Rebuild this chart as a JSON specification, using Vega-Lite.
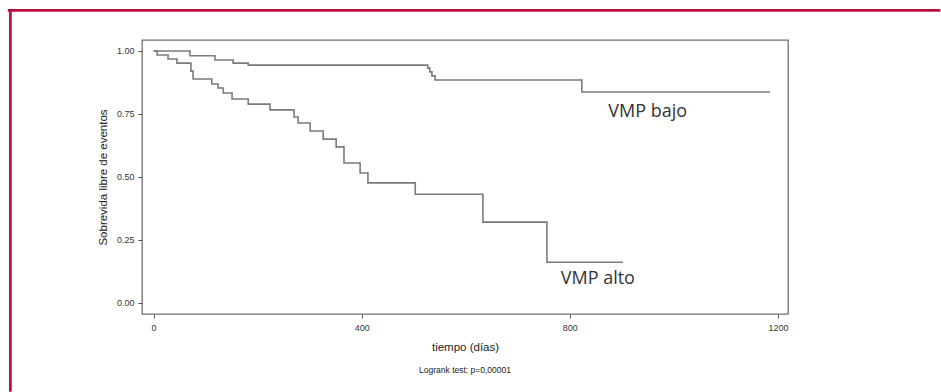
{
  "$schema": "https://vega.github.io/schema/vega-lite/v6.json",
  "width": 646,
  "height": 274,
  "autosize": {"type": "none"},
  "padding": {"left": 142, "top": 40, "right": 153, "bottom": 78},
  "background": "white",
  "config": {
    "view": {"stroke": "#707070", "strokeWidth": 1.3},
    "font": "Liberation Sans"
  },
  "title": {
    "text": "Logrank test: p=0,00001",
    "orient": "bottom",
    "anchor": "middle",
    "fontSize": 8.5,
    "fontWeight": "normal",
    "color": "#222",
    "font": "Liberation Sans",
    "offset": -27
  },
  "datasets": {
    "curves": [
      {"grupo": "VMP bajo", "t": 0, "s": 1.0},
      {"grupo": "VMP bajo", "t": 70, "s": 0.981},
      {"grupo": "VMP bajo", "t": 118, "s": 0.964},
      {"grupo": "VMP bajo", "t": 153, "s": 0.952},
      {"grupo": "VMP bajo", "t": 182, "s": 0.944},
      {"grupo": "VMP bajo", "t": 527, "s": 0.932},
      {"grupo": "VMP bajo", "t": 531, "s": 0.917},
      {"grupo": "VMP bajo", "t": 535, "s": 0.901},
      {"grupo": "VMP bajo", "t": 541, "s": 0.885},
      {"grupo": "VMP bajo", "t": 823, "s": 0.837},
      {"grupo": "VMP bajo", "t": 1185, "s": 0.837},
      {"grupo": "VMP alto", "t": 0, "s": 1.0},
      {"grupo": "VMP alto", "t": 7, "s": 0.984},
      {"grupo": "VMP alto", "t": 28, "s": 0.968},
      {"grupo": "VMP alto", "t": 45, "s": 0.952},
      {"grupo": "VMP alto", "t": 72, "s": 0.92},
      {"grupo": "VMP alto", "t": 76, "s": 0.889},
      {"grupo": "VMP alto", "t": 112, "s": 0.869},
      {"grupo": "VMP alto", "t": 124, "s": 0.853},
      {"grupo": "VMP alto", "t": 134, "s": 0.833},
      {"grupo": "VMP alto", "t": 151, "s": 0.809},
      {"grupo": "VMP alto", "t": 182, "s": 0.789},
      {"grupo": "VMP alto", "t": 224, "s": 0.766},
      {"grupo": "VMP alto", "t": 270, "s": 0.738},
      {"grupo": "VMP alto", "t": 278, "s": 0.714},
      {"grupo": "VMP alto", "t": 301, "s": 0.682},
      {"grupo": "VMP alto", "t": 326, "s": 0.65},
      {"grupo": "VMP alto", "t": 351, "s": 0.619},
      {"grupo": "VMP alto", "t": 366, "s": 0.555},
      {"grupo": "VMP alto", "t": 397, "s": 0.515},
      {"grupo": "VMP alto", "t": 412, "s": 0.476},
      {"grupo": "VMP alto", "t": 503, "s": 0.431},
      {"grupo": "VMP alto", "t": 633, "s": 0.32},
      {"grupo": "VMP alto", "t": 756, "s": 0.161},
      {"grupo": "VMP alto", "t": 902, "s": 0.161}
    ],
    "labels": [
      {"label": "VMP bajo", "t": 874, "s": 0.7366},
      {"label": "VMP alto", "t": 782.5, "s": 0.0743}
    ]
  },
  "layer": [
    {
      "data": {"name": "curves"},
      "mark": {"type": "line", "interpolate": "step-after", "strokeWidth": 1.6, "color": "#7b7b7b"},
      "encoding": {
        "detail": {"field": "grupo"},
        "x": {
          "field": "t", "type": "quantitative",
          "scale": {"domain": [-22.1, 1219.2], "nice": false, "zero": false},
          "axis": {
            "title": "tiempo (días)", "values": [0, 400, 800, 1200], "format": "d", "grid": false, "domain": false,
            "tickSize": 4, "tickColor": "#555", "labelFontSize": 9, "labelColor": "#333", "labelPadding": 5,
            "titleFontSize": 11.5, "titleFontWeight": "normal", "titleColor": "#222", "titlePadding": 9
          }
        },
        "y": {
          "field": "s", "type": "quantitative",
          "scale": {"domain": [-0.0449, 1.0437], "nice": false, "zero": false},
          "axis": {
            "title": "Sobrevida libre de eventos", "values": [0, 0.25, 0.5, 0.75, 1], "format": ".2f", "grid": false, "domain": false,
            "tickSize": 4, "tickColor": "#555", "labelFontSize": 9, "labelColor": "#333", "labelPadding": 4,
            "titleFontSize": 11.5, "titleFontWeight": "normal", "titleColor": "#222", "titlePadding": 8
          }
        }
      }
    },
    {
      "data": {"values": [{}]},
      "mark": {"type": "rule", "stroke": "#b50d3f", "strokeWidth": 2.7, "clip": false},
      "encoding": {
        "x": {"datum": -280, "type": "quantitative"},
        "x2": {"datum": 1512},
        "y": {"datum": 1.1617, "type": "quantitative"}
      }
    },
    {
      "data": {"values": [{}]},
      "mark": {"type": "rule", "stroke": "#b50d3f", "strokeWidth": 2.7, "clip": false},
      "encoding": {
        "x": {"datum": -275, "type": "quantitative"},
        "y": {"datum": 1.167, "type": "quantitative"},
        "y2": {"datum": -0.354}
      }
    },
    {
      "data": {"name": "labels"},
      "mark": {"type": "text", "align": "left", "baseline": "alphabetic", "font": "Open Sans", "fontSize": 18, "color": "#333"},
      "encoding": {
        "x": {"field": "t", "type": "quantitative"},
        "y": {"field": "s", "type": "quantitative"},
        "text": {"field": "label"}
      }
    }
  ]
}
